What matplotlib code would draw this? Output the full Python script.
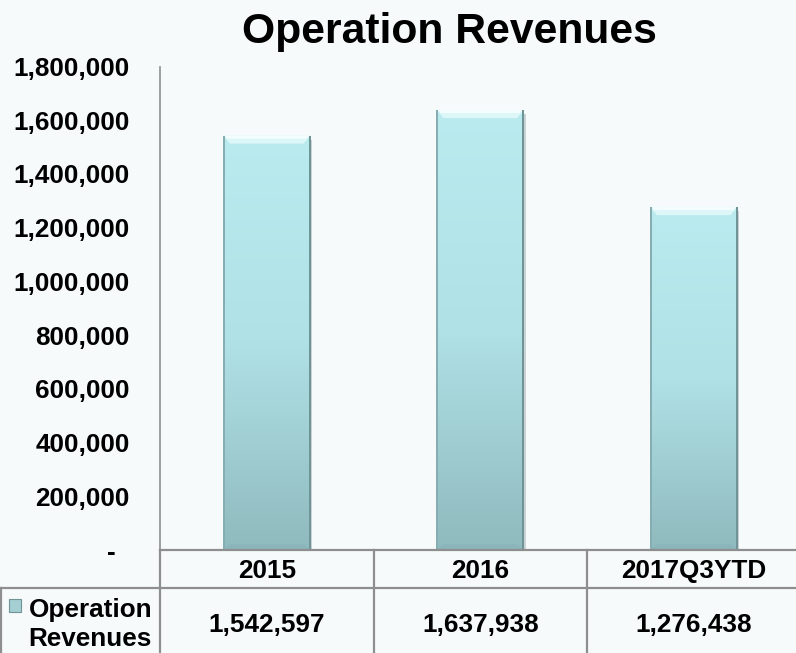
import matplotlib
matplotlib.use("Agg")
import matplotlib.pyplot as plt
import numpy as np
from matplotlib.colors import LinearSegmentedColormap
from matplotlib.patches import Rectangle, Polygon
from matplotlib.ticker import FuncFormatter

# ---------------- data ----------------
title = "Operation Revenues"
series_name = "Operation Revenues"
series_label_lines = ["Operation", "Revenues"]
categories = ["2015", "2016", "2017Q3YTD"]
values = [1542597, 1637938, 1276438]
y_ticks = [0, 200000, 400000, 600000, 800000, 1000000, 1200000, 1400000, 1600000, 1800000]

# ---------------- style ----------------
W, H = 796, 653
BG = "#F6FAFA"
LINE = "#8E8E8E"
FONT = "Liberation Sans"
FS = 18.8

plt.rcParams["font.family"] = [FONT, "DejaVu Sans"]
plt.rcParams["font.weight"] = "bold"

fig = plt.figure(figsize=(W / 100, H / 100), dpi=100, facecolor=BG)

def fx(px):
    return px / W

def fy(py):
    return 1 - py / H

ax_left, ax_right = 160, 800.5
ax_top, ax_bottom = 66.5, 550
ax = fig.add_axes([fx(ax_left), fy(ax_bottom), (ax_right - ax_left) / W, (ax_bottom - ax_top) / H])
ax.set_facecolor(BG)
ax.set_xlim(-0.5, len(categories) - 0.5)
ax.set_ylim(y_ticks[0], y_ticks[-1])

for s in ["top", "right", "bottom"]:
    ax.spines[s].set_visible(False)
ax.spines["left"].set_color(LINE)
ax.spines["left"].set_linewidth(1.2)

ax.set_xticks([])
ax.set_yticks(y_ticks)
ax.yaxis.set_major_formatter(FuncFormatter(lambda v, p: "-  " if v == 0 else f"{int(v):,}"))
ax.tick_params(axis="y", length=0, pad=21.6, labelsize=FS)
for lab in ax.get_yticklabels():
    lab.set_fontweight("bold")

# gradient bars
cmap = LinearSegmentedColormap.from_list(
    "bar", [(0.0, "#8FBABE"), (0.5, "#B0E1E6"), (1.0, "#BAEBEF")])
grad = np.linspace(0, 1, 256).reshape(-1, 1)
bar_w = 0.41
px_x = (len(categories)) / (ax_right - ax_left)        # data units per px (x)
px_y = (y_ticks[-1] - y_ticks[0]) / (ax_bottom - ax_top)  # data units per px (y)

bars = ax.bar(range(len(categories)), values, width=bar_w, color="none",
              edgecolor="none", zorder=2)
for i, (b, v) in enumerate(zip(bars, values)):
    x0 = b.get_x()
    x1 = x0 + b.get_width()
    im = ax.imshow(grad, cmap=cmap, aspect="auto", origin="lower",
                   extent=[x0, x1, 0, v], zorder=2, interpolation="bilinear")
    im.set_clip_path(b)
    dx = 7 * px_x
    dy = 8 * px_y
    # top bevel (light)
    ax.add_patch(Polygon([[x0, v], [x1, v], [x1 - dx, v - dy], [x0 + dx, v - dy]],
                         closed=True, facecolor="#DDF6F8", edgecolor="none", zorder=3))
    ax.add_patch(Polygon([[x0 + 1.5 * px_x, v], [x1 - 1.5 * px_x, v],
                          [x1 - 4 * px_x, v - 3 * px_y], [x0 + 4 * px_x, v - 3 * px_y]],
                         closed=True, facecolor="#F3FDFD", edgecolor="none", zorder=3))
    # bottom bevel (slightly darker)
    ax.add_patch(Polygon([[x0, 0], [x1, 0], [x1 - dx, dy * 0.7], [x0 + dx, dy * 0.7]],
                         closed=True, facecolor="#8BB5B9", edgecolor="none", zorder=3))
    # side edges
    ax.add_patch(Rectangle((x0, 0), 2.0 * px_x, v, facecolor="#86AEB2", edgecolor="none", zorder=4))
    ax.add_patch(Rectangle((x1 - 2.0 * px_x, 0), 2.0 * px_x, v, facecolor="#6F9397",
                           edgecolor="none", zorder=4))
    ax.add_patch(Rectangle((x1, 0), 1.6 * px_x, v - dy * 0.5, facecolor="#C9D3D4",
                           edgecolor="none", zorder=1.9))

# title
fig.text(fx(449), fy(43), title, ha="center", va="baseline", fontsize=30.7,
         fontweight="bold", color="black")

# ---------------- data table ----------------
lw = 1.6
col_w = (ax_right - ax_left) / len(categories)
def hline(y, xa, xb):
    fig.add_artist(plt.Line2D([fx(xa), fx(xb)], [fy(y), fy(y)], color=LINE, lw=lw))
def vline(x, ya, yb):
    fig.add_artist(plt.Line2D([fx(x), fx(x)], [fy(ya), fy(yb)], color=LINE, lw=lw))

hline(550, ax_left, W)
hline(588, 0, W)
vline(ax_left, 550, H)
for k in range(1, len(categories)):
    vline(ax_left + k * col_w, 550, H)
vline(0.8, 588, H)

for i, (c, v) in enumerate(zip(categories, values)):
    cx = ax_left + (i + 0.5) * col_w
    fig.text(fx(cx), fy(578), c, ha="center", va="baseline", fontsize=FS, fontweight="bold")
    fig.text(fx(cx), fy(632), f"{v:,}", ha="center", va="baseline", fontsize=FS,
             fontweight="bold")

# legend key and series name
fig.add_artist(Rectangle((fx(9), fy(612)), 12 / W, 13 / H, transform=fig.transFigure,
                         facecolor="#A6CFD3", edgecolor="#6F9397", lw=0.8))
fig.text(fx(152), fy(617), series_label_lines[0], ha="right", va="baseline", fontsize=FS,
         fontweight="bold")
fig.text(fx(152), fy(646), series_label_lines[1], ha="right", va="baseline", fontsize=FS,
         fontweight="bold")

fig.savefig("out.png", dpi=100, facecolor=BG)
